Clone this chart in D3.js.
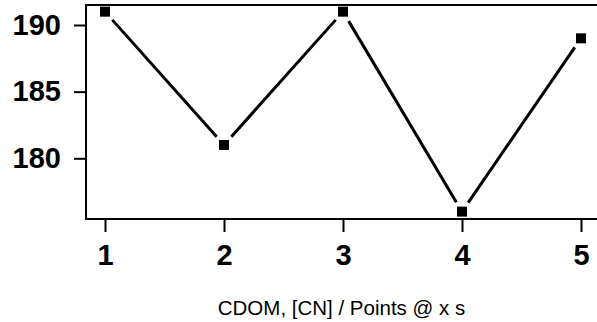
<!DOCTYPE html>
<html>
<head>
<meta charset="utf-8">
<script src="https://cdn.jsdelivr.net/npm/d3@7"></script>
<style>
  body { margin: 0; background: #fff; }
  svg { display: block; }
  .tick text { font-family: "Liberation Sans", Arial, sans-serif; font-weight: bold; font-size: 29px; fill: #000; }
</style>
</head>
<body>
<svg id="chart" width="597" height="322"></svg>
<script>
const xValues = [1, 2, 3, 4, 5]
const yValues = [191, 181, 191, 176, 189]
const yTicks = [180, 185, 190]
const title = 'CDOM, [CN] / Points @ x s'

const width = 597
const height = 322
// frame edges
const frameLeft = 86, frameTop = 5, frameBottom = 219

const svg = d3.select('#chart')

const x = d3.scaleLinear().domain([1, 5]).range([105, 581])
const y = d3.scaleLinear().domain([180, 190]).range([158.3, 25])

// frame: top, left, bottom
svg.append('path')
    .attr('d', `M${width},${frameTop}H${frameLeft}V${frameBottom}H${width}`)
    .attr('fill', 'none')
    .attr('stroke', '#000')
    .attr('stroke-width', 2)

const yAxis = svg.append('g')
    .attr('transform', `translate(${frameLeft},0)`)
    .call(d3.axisLeft(y).tickValues(yTicks).tickSize(12).tickPadding(13))
yAxis.select('.domain').remove()
yAxis.selectAll('.tick line').attr('stroke-width', 2)

const xAxis = svg.append('g')
    .attr('transform', `translate(0,${frameBottom})`)
    .call(d3.axisBottom(x).tickValues(xValues).tickFormat(d3.format('d')).tickSize(13).tickPadding(12))
xAxis.select('.domain').remove()
xAxis.selectAll('.tick line').attr('stroke-width', 2)

// line segments with gaps around the markers
const pts = xValues.map((v, i) => [x(v), y(yValues[i])])
const gap = 11
const segs = d3.pairs(pts).map(([a, b]) => {
    const dx = b[0] - a[0], dy = b[1] - a[1]
    const len = Math.hypot(dx, dy)
    const ux = dx / len, uy = dy / len
    return [[a[0] + ux * gap, a[1] + uy * gap], [b[0] - ux * gap, b[1] - uy * gap]]
})

svg.append('g')
    .selectAll('line')
    .data(segs)
    .enter()
    .append('line')
    .attr('x1', d => d[0][0])
    .attr('y1', d => d[0][1])
    .attr('x2', d => d[1][0])
    .attr('y2', d => d[1][1])
    .attr('stroke', '#000')
    .attr('stroke-width', 3)

const size = 10
svg.append('g')
    .selectAll('rect')
    .data(pts)
    .enter()
    .append('rect')
    .attr('x', d => d[0] - size / 2)
    .attr('y', d => d[1] - size / 2)
    .attr('width', size)
    .attr('height', size)
    .attr('fill', '#000')

// title centred under the plot area
svg.append('text')
    .attr('x', (frameLeft + width) / 2)
    .attr('y', 315)
    .attr('text-anchor', 'middle')
    .style('font-family', '"Liberation Sans", Arial, sans-serif')
    .style('font-size', '20.5px')
    .text(title)
</script>
</body>
</html>
